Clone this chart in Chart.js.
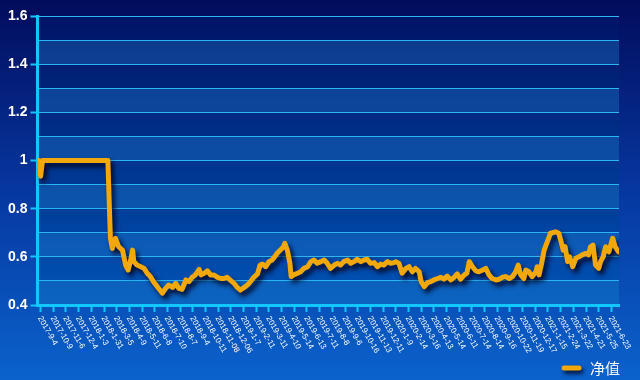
<!DOCTYPE html>
<html>
<head>
<meta charset="utf-8">
<script src="https://cdn.jsdelivr.net/npm/chart.js@4.4.1/dist/chart.umd.min.js"></script>
<style>
html,body{margin:0;padding:0;background:#0a3a98;}
#wrap{width:640px;height:380px;position:relative;}
</style>
</head>
<body>
<div id="wrap"><canvas id="c" width="640" height="380"></canvas></div>
<script>
// ---- data ----
const seriesName = '净值';
const tickLabels = ['2017-9-4','2017-10-9','2017-11-6','2017-12-4','2018-1-3','2018-1-31','2018-3-5','2018-4-9','2018-5-11','2018-6-8','2018-7-10','2018-8-7','2018-9-4','2018-10-11','2018-11-08','2018-12-06','2019-1-7','2019-2-11','2019-3-11','2019-4-10','2019-5-14','2019-6-13','2019-7-11','2019-8-8','2019-9-6','2019-10-16','2019-11-13','2019-12-11','2020-1-9','2020-2-14','2020-3-16','2020-4-13','2020-5-14','2020-6-11','2020-7-14','2020-8-14','2020-9-16','2020-10-22','2020-11-19','2020-12-17','2021-1-15','2021-2-24','2021-3-22','2021-4-21','2021-5-25','2021-6-23'];
// trading-day index of the first labelled day, and trading days between labels
const firstLabelDay = 5;
const labelEvery = 20;
const lastDay = 917;
// trading-day index of each sampled point, and the net value there
const navDays = [0,2,5,8,111,115,118,123,128,134,139,143,147,150,152,157,163,168,173,178,183,189,197,202,207,213,218,223,228,234,239,244,249,255,258,263,268,273,278,284,289,294,299,305,310,315,320,326,331,336,341,347,351,355,360,365,370,374,378,383,388,390,394,398,400,404,410,415,420,426,431,436,441,447,452,457,462,468,473,478,483,489,494,499,504,510,515,520,525,531,536,541,546,552,557,562,565,570,575,581,586,591,596,602,605,610,615,620,625,631,636,641,646,652,657,662,667,673,677,681,686,691,696,702,707,712,717,723,728,733,738,744,749,754,758,762,767,770,775,780,786,788,791,795,799,801,804,809,817,822,825,829,832,836,839,844,849,854,859,865,869,872,876,880,885,888,892,896,901,907,911,916];
const navValues = [1.0,1.0,0.935,1.0,1.0,0.678,0.635,0.677,0.642,0.628,0.566,0.545,0.587,0.628,0.58,0.566,0.559,0.552,0.532,0.518,0.497,0.476,0.449,0.469,0.483,0.473,0.49,0.469,0.465,0.504,0.497,0.515,0.525,0.548,0.525,0.532,0.542,0.525,0.525,0.515,0.51,0.51,0.515,0.501,0.49,0.473,0.462,0.473,0.483,0.497,0.515,0.529,0.566,0.57,0.559,0.58,0.587,0.6,0.615,0.628,0.642,0.656,0.628,0.573,0.518,0.525,0.532,0.538,0.552,0.559,0.58,0.587,0.573,0.58,0.587,0.573,0.552,0.566,0.573,0.566,0.58,0.587,0.573,0.58,0.59,0.58,0.587,0.59,0.573,0.576,0.559,0.57,0.566,0.58,0.573,0.576,0.58,0.573,0.532,0.552,0.559,0.538,0.552,0.538,0.497,0.476,0.493,0.497,0.504,0.51,0.515,0.507,0.52,0.504,0.515,0.529,0.507,0.525,0.532,0.58,0.559,0.542,0.538,0.545,0.552,0.525,0.51,0.504,0.507,0.515,0.518,0.51,0.518,0.538,0.566,0.525,0.51,0.545,0.538,0.518,0.538,0.559,0.525,0.573,0.628,0.642,0.663,0.698,0.704,0.698,0.67,0.628,0.642,0.58,0.6,0.559,0.594,0.6,0.608,0.615,0.608,0.642,0.649,0.566,0.552,0.58,0.6,0.642,0.621,0.677,0.642,0.621];
const yMin = 0.4, yMax = 1.6, yStep = 0.1;

// ---- styles ----
const CYAN = '#12c6ff';
const GRID = '#2ab6f2';
const ORANGE = '#f2a80a';

const bgPlugin = {
  id: 'bg',
  beforeDraw(chart) {
    const {ctx, width, height, chartArea: a, scales} = chart;
    ctx.save();
    const g = ctx.createLinearGradient(0, 0, 0, height);
    g.addColorStop(0, '#020c5c');
    g.addColorStop(0.5, '#0637a0');
    g.addColorStop(1, '#0b62cc');
    ctx.fillStyle = g;
    ctx.fillRect(0, 0, width, height);
    const pg = ctx.createLinearGradient(0, a.top, 0, a.bottom);
    pg.addColorStop(0, '#001466');
    pg.addColorStop(1, '#0054b6');
    ctx.fillStyle = pg;
    ctx.fillRect(a.left, a.top, a.right - a.left, a.bottom - a.top);
    const y = scales.y;
    ctx.fillStyle = 'rgba(40,140,220,0.30)';
    for (let v = yMin, k = 0; v < yMax - 1e-9; v += yStep, k++) {
      if (k % 2 === 0) {
        const y1 = y.getPixelForValue(v), y2 = y.getPixelForValue(v + yStep);
        ctx.fillRect(a.left, y2, a.right - a.left, y1 - y2);
      }
    }
    ctx.restore();
  },
  beforeDatasetsDraw(chart) {
    const ctx = chart.ctx;
    ctx.save();
    ctx.shadowColor = 'rgba(0,3,30,0.9)';
    ctx.shadowBlur = 5;
    ctx.shadowOffsetX = 3;
    ctx.shadowOffsetY = 4;
  },
  afterDatasetsDraw(chart) {
    chart.ctx.restore();
  },
  afterDraw(chart) {
    const {ctx, scales} = chart;
    const x = scales.x;
    ctx.save();
    ctx.fillStyle = '#ffffff';
    ctx.font = '8px "Liberation Sans", Arial, sans-serif';
    ctx.textAlign = 'left';
    ctx.textBaseline = 'middle';
    tickLabels.forEach((lab, k) => {
      const px = x.getPixelForValue(firstLabelDay + labelEvery * k);
      ctx.save();
      ctx.translate(px - 1, x.top + 12);
      ctx.rotate(Math.PI / 3);
      ctx.fillText(lab, 0, 0);
      ctx.restore();
    });
    // legend
    const lx1 = 564, lx2 = 579, ly = 368;
    ctx.save();
    ctx.shadowColor = 'rgba(0,3,30,0.9)';
    ctx.shadowBlur = 4;
    ctx.shadowOffsetX = 2;
    ctx.shadowOffsetY = 3;
    ctx.strokeStyle = ORANGE;
    ctx.lineWidth = 5;
    ctx.lineCap = 'round';
    ctx.beginPath();
    ctx.moveTo(lx1, ly);
    ctx.lineTo(lx2, ly);
    ctx.stroke();
    ctx.restore();
    ctx.fillStyle = '#ffffff';
    ctx.font = '15px "Noto Sans CJK SC", sans-serif';
    ctx.textBaseline = 'middle';
    ctx.fillText(seriesName, 590, ly);
    ctx.restore();
  }
};

new Chart(document.getElementById('c'), {
  type: 'line',
  data: {
    datasets: [{
      label: seriesName,
      data: navDays.map((d, i) => ({x: d, y: navValues[i]})),
      borderColor: ORANGE,
      borderWidth: 5,
      pointRadius: 0,
      tension: 0,
      borderJoinStyle: 'round',
      borderCapStyle: 'round',
      fill: false
    }]
  },
  options: {
    responsive: false,
    animation: false,
    events: [],
    layout: {padding: {left: 5, top: 16, right: 21, bottom: 68}},
    plugins: {legend: {display: false}, tooltip: {enabled: false}},
    scales: {
      x: {
        type: 'linear',
        min: 0,
        max: lastDay,
        afterBuildTicks(scale) {
          scale.ticks = tickLabels.map((_, k) => ({value: firstLabelDay + labelEvery * k}));
        },
        ticks: {display: false},
        grid: {display: true, drawOnChartArea: false, drawTicks: true, tickLength: 7, tickColor: CYAN, tickWidth: 2},
        border: {display: true, color: CYAN, width: 3}
      },
      y: {
        type: 'linear',
        min: yMin,
        max: yMax,
        ticks: {
          stepSize: yStep,
          autoSkip: false,
          color: '#ffffff',
          padding: 3,
          font: {family: '"Liberation Sans", Arial, sans-serif', size: 14, weight: 'bold'},
          callback: (v) => (Math.round(v * 10) % 2 === 0 ? String(Number(v.toFixed(1))) : '')
        },
        grid: {
          color: GRID,
          lineWidth: 1,
          drawTicks: true,
          tickLength: 7,
          tickWidth: 2,
          tickColor: (c) => (c.tick && Math.round(c.tick.value * 10) % 2 === 0 ? CYAN : 'rgba(0,0,0,0)')
        },
        border: {display: true, color: CYAN, width: 3}
      }
    }
  },
  plugins: [bgPlugin]
});
</script>
</body>
</html>
